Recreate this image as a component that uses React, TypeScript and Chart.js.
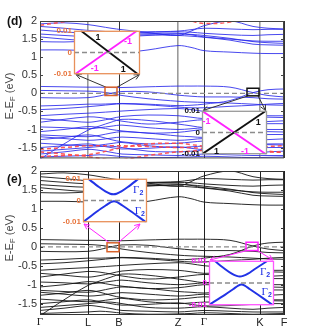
import React, { useEffect, useRef } from "react";
import { Chart, registerables } from "chart.js";
Chart.register(...registerables);

// ---------- data ----------
const K_SAMPLES = [0, 24, 48, 60, 71, 82, 108, 138, 151, 164, 190, 213, 228, 244];
const SYM_POINTS = [0, 48, 79, 138, 164, 220, 244];
const SYM_LABELS = ["Γ", "L", "B", "Z", "Γ", "K", "F"];
const E_TICKS = [-1.5, -1, -0.5, 0, 0.5, 1, 1.5, 2];
const E_MIN = -1.8;
const E_MAX = 2;
const INSET_TICKS = [-0.01, 0, 0.01];

const BAND_U1 = [1.92, 1.95, 1.9, 1.85, 1.8, 1.76, 1.68, 1.6, 1.72, 1.87, 2.0, 1.85, 1.8, 1.78];
const BAND_U2 = [1.85, 1.8, 1.74, 1.72, 1.7, 1.69, 1.7, 1.72, 1.76, 1.8, 1.78, 1.76, 1.77, 1.77];
const BAND_U3 = [1.75, 1.7, 1.66, 1.66, 1.67, 1.68, 1.69, 1.7, 1.69, 1.66, 1.62, 1.6, 1.62, 1.63];
const BAND_U4 = [1.64, 1.6, 1.57, 1.59, 1.61, 1.63, 1.65, 1.66, 1.62, 1.56, 1.5, 1.45, 1.44, 1.44];
const BAND_U5 = [1.56, 1.5, 1.46, 1.49, 1.53, 1.56, 1.6, 1.64, 1.63, 1.6, 1.52, 1.43, 1.4, 1.38];
const BAND_U6 = [1.43, 1.42, 1.45, 1.5, 1.55, 1.59, 1.62, 1.6, 1.58, 1.55, 1.47, 1.36, 1.34, 1.33];
const BAND_U7 = [1.2, 1.2, 1.18, 1.16, 1.13, 1.12, 1.2, 1.32, 1.27, 1.18, 1.14, 1.11, 1.1, 1.1];
const BAND_N1 = [0.19, 0.18, 0.17, 0.17, 0.16, 0.16, 0.18, 0.2, 0.2, 0.2, 0.17, 0.02, -0.06, -0.1];
const BAND_N2 = [-0.12, -0.13, -0.12, -0.07, 0.0, 0.05, 0.04, -0.05, -0.08, -0.1, -0.1, -0.12, -0.15, -0.16];
const BAND_N3 = [0.08, 0.07, 0.06, 0.04, 0.0, -0.06, -0.15, -0.22, -0.24, -0.25, -0.27, -0.3, -0.32, -0.33];
const BAND_N4 = [-0.35, -0.33, -0.3, -0.3, -0.29, -0.28, -0.3, -0.34, -0.33, -0.3, -0.2, 0.02, 0.1, 0.12];
const BAND_L1 = [-0.45, -0.42, -0.37, -0.34, -0.31, -0.29, -0.32, -0.38, -0.4, -0.4, -0.36, -0.33, -0.3, -0.28];
const BAND_L2 = [-0.62, -0.58, -0.55, -0.53, -0.51, -0.49, -0.45, -0.42, -0.45, -0.5, -0.55, -0.6, -0.62, -0.62];
const BAND_L3 = [-0.7, -0.75, -0.8, -0.76, -0.7, -0.64, -0.6, -0.62, -0.66, -0.7, -0.68, -0.65, -0.66, -0.67];
const BAND_L4 = [-0.8, -0.72, -0.65, -0.67, -0.72, -0.77, -0.85, -0.8, -0.76, -0.73, -0.76, -0.8, -0.78, -0.76];
const BAND_L5 = [-0.93, -0.95, -0.98, -0.95, -0.91, -0.88, -0.95, -1.0, -0.98, -0.95, -0.9, -0.85, -0.84, -0.84];
const BAND_L6 = [-1.06, -1.0, -0.92, -0.95, -1.0, -1.04, -1.1, -1.08, -1.04, -1.0, -1.02, -1.05, -1.06, -1.07];
const BAND_L7 = [-1.15, -1.18, -1.2, -1.16, -1.1, -1.06, -1.1, -1.18, -1.2, -1.22, -1.18, -1.15, -1.14, -1.14];
const BAND_L8 = [-1.2, -1.25, -1.3, -1.28, -1.24, -1.21, -1.25, -1.3, -1.28, -1.25, -1.28, -1.3, -1.28, -1.26];
const BAND_L9 = [-1.28, -1.22, -1.15, -1.2, -1.28, -1.34, -1.4, -1.38, -1.35, -1.32, -1.35, -1.4, -1.42, -1.43];
const BAND_L10 = [-1.38, -1.42, -1.45, -1.43, -1.39, -1.36, -1.45, -1.5, -1.48, -1.46, -1.45, -1.42, -1.4, -1.4];
const BAND_L11 = [-1.5, -1.45, -1.4, -1.45, -1.5, -1.54, -1.52, -1.48, -1.52, -1.56, -1.55, -1.52, -1.5, -1.5];
const BAND_L12 = [-1.6, -1.55, -1.5, -1.47, -1.46, -1.5, -1.6, -1.62, -1.6, -1.58, -1.62, -1.65, -1.62, -1.6];
const BAND_L13 = [-1.68, -1.62, -1.55, -1.58, -1.63, -1.68, -1.7, -1.72, -1.7, -1.68, -1.7, -1.72, -1.72, -1.72];
const BAND_L14 = [-1.82, -1.4, -1.02, -0.9, -0.8, -0.72, -0.75, -0.85, -0.9, -0.95, -0.98, -1.0, -1.0, -1.0];
const BAND_L15 = [-1.76, -1.74, -1.72, -1.7, -1.72, -1.75, -1.78, -1.77, -1.76, -1.74, -1.76, -1.78, -1.77, -1.76];

const BANDS = [
  BAND_U1, BAND_U2, BAND_U3, BAND_U4, BAND_U5, BAND_U6, BAND_U7,
  BAND_N1, BAND_N2, BAND_N3, BAND_N4,
  BAND_L1, BAND_L2, BAND_L3, BAND_L4, BAND_L5, BAND_L6, BAND_L7, BAND_L8,
  BAND_L9, BAND_L10, BAND_L11, BAND_L12, BAND_L13, BAND_L14, BAND_L15,
];

const DN_R1 = [1.88, 1.98, 2.1, 2.15, 2.18, 2.2, 2.15, 2.08, 2.0, 1.93, 1.97, 2.15, 2.25, 2.3];
const DN_R2 = [-1.55, -1.5, -1.45, -1.45, -1.45, -1.45, -1.47, -1.5, -1.5, -1.52, -1.52, -1.5, -1.47, -1.45];
const DN_R3 = [-1.62, -1.68, -1.75, -1.8, -1.84, -1.84, -1.72, -1.62, -1.6, -1.58, -1.6, -1.62, -1.62, -1.63];
const DN_R4 = [-1.75, -1.72, -1.7, -1.64, -1.57, -1.5, -1.4, -1.38, -1.42, -1.46, -1.5, -1.55, -1.6, -1.64];
const SPIN_DN = [DN_R1, DN_R2, DN_R3, DN_R4];

// insets (k in relative units -1..1, E in eV)
const D1_BLACK_K = [-0.79, 0.94];
const D1_BLACK_E = [0.01, -0.01];
const D1_MAG_K = [-0.97, 0.91];
const D1_MAG_E = [-0.01, 0.01];
const D2_BLACK_K = [-1, 0.97];
const D2_BLACK_E = [-0.01, 0.01];
const D2_MAG_K = [-1, 0.97];
const D2_MAG_E = [0.01, -0.01];
const E1_UP_K = [-0.84, -0.5, -0.3, -0.15, -0.05, 0.05, 0.2, 0.4, 0.74];
const E1_UP_E = [0.01, 0.0062, 0.0042, 0.00314, 0.0029, 0.00314, 0.0042, 0.0062, 0.01];
const E1_LO_K = [-1, -0.53, -0.28, -0.13, -0.03, 0.07, 0.22, 0.47, 0.97];
const E1_LO_E = [-0.01, -0.0047, -0.0022, -0.0008, -0.0003, -0.0008, -0.0022, -0.0047, -0.01];
const E2_UP_K = [-0.83, -0.5, -0.3, -0.15, -0.05, 0.05, 0.2, 0.4, 0.78];
const E2_UP_E = [0.01, 0.0062, 0.0042, 0.0032, 0.0029, 0.0032, 0.0042, 0.0062, 0.0098];
const E2_LO_K = [-1, -0.5, -0.25, -0.1, 0.0, 0.1, 0.25, 0.5, 0.95];
const E2_LO_E = [-0.0098, -0.0052, -0.0027, -0.0012, -0.0007, -0.0012, -0.0027, -0.0052, -0.0098];

// ---------- helpers ----------
const SANS = '"Liberation Sans", Arial, sans-serif';
const SERIF = '"Liberation Serif", "Times New Roman", serif';
const pts = (xs: number[], ys: number[]) => xs.map((x, i) => ({ x, y: ys[i] }));

function drawArrow(ctx: CanvasRenderingContext2D, x1: number, y1: number, x2: number, y2: number, color: string) {
  const ang = Math.atan2(y2 - y1, x2 - x1);
  ctx.strokeStyle = color;
  ctx.lineWidth = 1;
  ctx.beginPath();
  ctx.moveTo(x1, y1);
  ctx.lineTo(x2, y2);
  ctx.stroke();
  const L = 6, w = 0.45;
  ctx.beginPath();
  ctx.moveTo(x2 - L * Math.cos(ang - w), y2 - L * Math.sin(ang - w));
  ctx.lineTo(x2, y2);
  ctx.lineTo(x2 - L * Math.cos(ang + w), y2 - L * Math.sin(ang + w));
  ctx.stroke();
}

function drawYTitle(ctx: CanvasRenderingContext2D, cx: number, cy: number) {
  ctx.save();
  ctx.translate(cx, cy);
  ctx.rotate(-Math.PI / 2);
  const big = `11px ${SANS}`, small = `8px ${SANS}`;
  ctx.font = big;
  const w1 = ctx.measureText("E-E").width;
  const w3 = ctx.measureText(" (eV)").width;
  ctx.font = small;
  const w2 = ctx.measureText("F").width;
  const x0 = -(w1 + w2 + w3) / 2;
  ctx.fillStyle = "#444";
  ctx.textBaseline = "middle";
  ctx.textAlign = "left";
  ctx.font = big;
  ctx.fillText("E-E", x0, 0);
  ctx.font = small;
  ctx.fillText("F", x0 + w1, 3);
  ctx.font = big;
  ctx.fillText(" (eV)", x0 + w1 + w2, 0);
  ctx.restore();
}

type Box = { k0: number; k1: number; e0: number; e1: number; color: string };
type Arrow = { k: number; e: number; px: number; py: number };
type PanelCfg = {
  top: number; height: number; padTop: number; padBottom: number; xAxisH: number;
  showX: boolean; bandColor: string; spinDown: boolean; frameColor: string;
  gridColor: (v: number) => string; gridWidth: (v: number) => number;
  label: string; labelY: number; titleY: number;
  boxes: Box[]; arrows: Arrow[]; arrowColor: string;
};

function mainConfig(p: PanelCfg): any {
  const datasets: any[] = [];
  datasets.push({ data: pts([0, 244], [0, 0]), borderColor: "#8c8c8c", borderDash: [5, 3], borderWidth: 1.2, pointRadius: 0 });
  if (p.spinDown) {
    SPIN_DN.forEach((b) => datasets.push({ data: pts(K_SAMPLES, b), borderColor: "rgba(255,70,70,0.9)", borderDash: [4, 3], borderWidth: 1.5, pointRadius: 0, tension: 0.35 }));
  }
  BANDS.forEach((b) => datasets.push({ data: pts(K_SAMPLES, b), borderColor: p.bandColor, borderWidth: 1, pointRadius: 0, tension: 0.35 }));

  return {
    type: "line",
    data: { datasets },
    options: {
      responsive: false,
      animation: false,
      devicePixelRatio: 1,
      events: [],
      layout: { padding: { top: p.padTop, right: 31, bottom: p.padBottom, left: 0 } },
      plugins: { legend: { display: false }, tooltip: { enabled: false } },
      scales: {
        x: {
          type: "linear", min: 0, max: 244,
          afterBuildTicks: (s: any) => { s.ticks = SYM_POINTS.map((v) => ({ value: v })); },
          afterFit: (s: any) => { s.height = p.xAxisH; },
          ticks: {
            display: p.showX, autoSkip: false, maxRotation: 0, padding: 1, color: "#222",
            callback: (_v: any, i: number) => SYM_LABELS[i],
            font: (c: any) => ({ family: SYM_LABELS[c.index] === "Γ" ? SERIF : SANS, size: 11 }),
          },
          grid: {
            display: true, drawTicks: false,
            color: (c: any) => p.gridColor(c.tick ? c.tick.value : 0),
            lineWidth: (c: any) => p.gridWidth(c.tick ? c.tick.value : 0),
          },
          border: { display: false },
        },
        y: {
          type: "linear", min: E_MIN, max: E_MAX,
          afterBuildTicks: (s: any) => { s.ticks = E_TICKS.map((v) => ({ value: v })); },
          afterFit: (s: any) => { s.width = 40; },
          ticks: { padding: 3, color: "#333", font: { family: SANS, size: 11 }, callback: (v: any) => String(v) },
          grid: { display: false, drawTicks: false },
          border: { display: false },
        },
      },
    },
    plugins: [
      {
        id: "panelDecor",
        afterDraw(chart: any) {
          const { ctx, chartArea: a, scales } = chart;
          const x = scales.x, y = scales.y;
          ctx.save();
          ctx.strokeStyle = p.frameColor;
          ctx.lineWidth = 1;
          ctx.strokeRect(a.left + 0.5, a.top + 0.5, a.right - a.left - 1, a.bottom - a.top - 1);
          ctx.beginPath();
          E_TICKS.forEach((v) => {
            const py = Math.round(y.getPixelForValue(v)) + 0.5;
            ctx.moveTo(a.left, py); ctx.lineTo(a.left + 3, py);
            ctx.moveTo(a.right, py); ctx.lineTo(a.right - 3, py);
          });
          ctx.stroke();
          drawYTitle(ctx, 10, p.titleY);
          ctx.font = `bold 12px ${SANS}`;
          ctx.fillStyle = "#111";
          ctx.textAlign = "left";
          ctx.textBaseline = "middle";
          ctx.fillText(p.label, 7, p.labelY);
          p.arrows.forEach((ar) => {
            drawArrow(ctx, x.getPixelForValue(ar.k), y.getPixelForValue(ar.e), ar.px, ar.py - p.top, p.arrowColor);
          });
          p.boxes.forEach((b) => {
            const x0 = x.getPixelForValue(b.k0), x1 = x.getPixelForValue(b.k1);
            const y0 = y.getPixelForValue(b.e0), y1 = y.getPixelForValue(b.e1);
            ctx.strokeStyle = b.color;
            ctx.lineWidth = 1.5;
            ctx.strokeRect(x0, y0, x1 - x0, y1 - y0);
          });
          ctx.restore();
        },
      },
    ],
  };
}

type InsetText = { k: number; e: number; t: string; color: string; gamma?: boolean };
type InsetCfg = {
  left: number; top: number; w: number; h: number; labelW: number;
  tickColor: string; frameColor: string;
  series: { k: number[]; e: number[]; color: string; width: number; tension: number }[];
  texts: InsetText[];
};

function insetGeom(c: InsetCfg) {
  return { left: c.left - c.labelW, top: c.top - 6, width: c.labelW + c.w + 3, height: c.h + 12 };
}

function insetConfig(c: InsetCfg): any {
  const datasets: any[] = [];
  datasets.push({ data: pts([-1, 1], [0, 0]), borderColor: "#8c8c8c", borderDash: [5, 3], borderWidth: 1.3, pointRadius: 0 });
  c.series.forEach((s) => datasets.push({ data: pts(s.k, s.e), borderColor: s.color, borderWidth: s.width, pointRadius: 0, tension: s.tension }));
  return {
    type: "line",
    data: { datasets },
    options: {
      responsive: false,
      animation: false,
      devicePixelRatio: 1,
      events: [],
      layout: { padding: { top: 6, right: 3, bottom: 6, left: 0 } },
      plugins: { legend: { display: false }, tooltip: { enabled: false } },
      scales: {
        x: { type: "linear", min: -1, max: 1, display: false },
        y: {
          type: "linear", min: -0.01, max: 0.01,
          afterBuildTicks: (s: any) => { s.ticks = INSET_TICKS.map((v) => ({ value: v })); },
          afterFit: (s: any) => { s.width = c.labelW; },
          ticks: { padding: 2, color: c.tickColor, font: { family: SANS, size: 8, weight: "bold" }, callback: (v: any) => String(v) },
          grid: { display: false, drawTicks: false },
          border: { display: false },
        },
      },
    },
    plugins: [
      {
        id: "insetDecor",
        beforeDatasetsDraw(chart: any) {
          const { ctx, chartArea: a } = chart;
          ctx.save();
          ctx.fillStyle = "#fff";
          ctx.fillRect(a.left, a.top, a.right - a.left, a.bottom - a.top);
          ctx.restore();
        },
        afterDraw(chart: any) {
          const { ctx, chartArea: a, scales } = chart;
          ctx.save();
          ctx.strokeStyle = c.frameColor;
          ctx.lineWidth = 1.3;
          ctx.strokeRect(a.left + 0.5, a.top + 0.5, a.right - a.left - 1, a.bottom - a.top - 1);
          ctx.textAlign = "center";
          ctx.textBaseline = "middle";
          c.texts.forEach((t) => {
            const px = scales.x.getPixelForValue(t.k), py = scales.y.getPixelForValue(t.e);
            ctx.fillStyle = t.color;
            if (t.gamma) {
              ctx.font = `11px ${SERIF}`;
              ctx.textAlign = "left";
              const wg = ctx.measureText("Γ").width;
              ctx.fillText("Γ", px - 5, py);
              ctx.font = `bold 7px ${SANS}`;
              ctx.fillText(t.t, px - 5 + wg, py + 3);
              ctx.textAlign = "center";
            } else {
              ctx.font = `bold 9px ${SANS}`;
              ctx.fillText(t.t, px, py);
            }
          });
          ctx.restore();
        },
      },
    ],
  };
}

// ---------- panel / inset definitions ----------
const ORANGE = "#e8743b";
const MAGENTA = "#ff22ff";
const BLUE = "#2233e6";

const PANEL_D: PanelCfg = {
  top: 0, height: 168, padTop: 21, padBottom: 5, xAxisH: 0, showX: false,
  bandColor: "rgba(40,40,235,0.85)", spinDown: true, frameColor: "#444",
  gridColor: (v) => (v === 48 || v === 138 || v === 220 ? "#9a9a9a" : "#333"),
  gridWidth: (v) => (v === 48 || v === 138 || v === 220 ? 1.6 : 1),
  label: "(d)", labelY: 22, titleY: 96,
  boxes: [
    { k0: 65, k1: 77, e0: 0.17, e1: -0.06, color: "#d8622a" },
    { k0: 207, k1: 219, e0: 0.14, e1: -0.07, color: "#111" },
  ],
  arrows: [
    { k: 66, e: 0.17, px: 76, py: 74.5 },
    { k: 77, e: 0.17, px: 139.5, py: 74.5 },
    { k: 208, e: -0.07, px: 203, py: 110.5 },
    { k: 218, e: -0.07, px: 265.5, py: 110.5 },
  ],
  arrowColor: "#333",
};

const PANEL_E: PanelCfg = {
  top: 160, height: 176, padTop: 11, padBottom: 0, xAxisH: 21, showX: true,
  bandColor: "rgba(20,20,20,0.9)", spinDown: false, frameColor: "#333",
  gridColor: () => "#222",
  gridWidth: () => 1,
  label: "(e)", labelY: 20, titleY: 78,
  boxes: [
    { k0: 67, k1: 79, e0: 0.105, e1: -0.13, color: "#d8622a" },
    { k0: 206, k1: 218, e0: 0.12, e1: -0.1, color: MAGENTA },
  ],
  arrows: [
    { k: 69.5, e: 0.105, px: 84, py: 224 },
    { k: 78, e: 0.105, px: 140, py: 224 },
    { k: 207, e: -0.1, px: 210, py: 260 },
    { k: 217.5, e: -0.1, px: 273, py: 260 },
  ],
  arrowColor: MAGENTA,
};

const INSET_D1: InsetCfg = {
  left: 74, top: 30, w: 66, h: 45, labelW: 24, tickColor: ORANGE, frameColor: "#e8905a",
  series: [
    { k: D1_BLACK_K, e: D1_BLACK_E, color: "#111", width: 1.8, tension: 0 },
    { k: D1_MAG_K, e: D1_MAG_E, color: MAGENTA, width: 1.8, tension: 0 },
  ],
  texts: [
    { k: -0.27, e: 0.0068, t: "1", color: "#111" },
    { k: 0.64, e: 0.0052, t: "-1", color: MAGENTA },
    { k: -0.37, e: -0.0076, t: "-1", color: MAGENTA },
    { k: 0.49, e: -0.0079, t: "1", color: "#111" },
  ],
};

const INSET_D2: InsetCfg = {
  left: 202, top: 110, w: 65, h: 45, labelW: 24, tickColor: "#111", frameColor: "#9a9a9a",
  series: [
    { k: D2_BLACK_K, e: D2_BLACK_E, color: "#111", width: 1.8, tension: 0 },
    { k: D2_MAG_K, e: D2_MAG_E, color: MAGENTA, width: 1.8, tension: 0 },
  ],
  texts: [
    { k: -0.86, e: 0.005, t: "-1", color: MAGENTA },
    { k: 0.73, e: 0.0047, t: "1", color: "#111" },
    { k: -0.55, e: -0.0087, t: "1", color: "#111" },
    { k: 0.32, e: -0.0087, t: "-1", color: MAGENTA },
  ],
};

const INSET_E1: InsetCfg = {
  left: 83, top: 178, w: 64, h: 45, labelW: 24, tickColor: ORANGE, frameColor: "#e8905a",
  series: [
    { k: E1_UP_K, e: E1_UP_E, color: BLUE, width: 2, tension: 0.3 },
    { k: E1_LO_K, e: E1_LO_E, color: BLUE, width: 2, tension: 0.3 },
  ],
  texts: [
    { k: 0.72, e: 0.0048, t: "2", color: BLUE, gamma: true },
    { k: 0.77, e: -0.0048, t: "2", color: BLUE, gamma: true },
  ],
};

const INSET_E2: InsetCfg = {
  left: 209, top: 260, w: 65, h: 46, labelW: 24, tickColor: MAGENTA, frameColor: "#ff55ff",
  series: [
    { k: E2_UP_K, e: E2_UP_E, color: BLUE, width: 2, tension: 0.3 },
    { k: E2_LO_K, e: E2_LO_E, color: BLUE, width: 2, tension: 0.3 },
  ],
  texts: [
    { k: 0.72, e: 0.0051, t: "2", color: BLUE, gamma: true },
    { k: 0.77, e: -0.0043, t: "2", color: BLUE, gamma: true },
  ],
};

const INSETS = [INSET_D1, INSET_D2, INSET_E1, INSET_E2];

export default function App() {
  const dRef = useRef<HTMLCanvasElement>(null);
  const eRef = useRef<HTMLCanvasElement>(null);
  const insetRefs = [useRef<HTMLCanvasElement>(null), useRef<HTMLCanvasElement>(null), useRef<HTMLCanvasElement>(null), useRef<HTMLCanvasElement>(null)];

  useEffect(() => {
    const charts: Chart[] = [];
    if (dRef.current) charts.push(new Chart(dRef.current, mainConfig(PANEL_D)));
    if (eRef.current) charts.push(new Chart(eRef.current, mainConfig(PANEL_E)));
    INSETS.forEach((c, i) => {
      const el = insetRefs[i].current;
      if (el) charts.push(new Chart(el, insetConfig(c)));
    });
    return () => charts.forEach((ch) => ch.destroy());
  }, []);

  const abs = (left: number, top: number, width: number, height: number): React.CSSProperties => ({
    position: "absolute", left, top, width, height, display: "block",
  });

  return (
    <div style={{ position: "absolute", left: 0, top: 0, width: 315, height: 336, background: "#fff", overflow: "hidden" }}>
      <canvas ref={dRef} width={315} height={PANEL_D.height} style={abs(0, PANEL_D.top, 315, PANEL_D.height)} />
      <canvas ref={eRef} width={315} height={PANEL_E.height} style={abs(0, PANEL_E.top, 315, PANEL_E.height)} />
      {INSETS.map((c, i) => {
        const g = insetGeom(c);
        return <canvas key={i} ref={insetRefs[i]} width={g.width} height={g.height} style={abs(g.left, g.top, g.width, g.height)} />;
      })}
    </div>
  );
}
